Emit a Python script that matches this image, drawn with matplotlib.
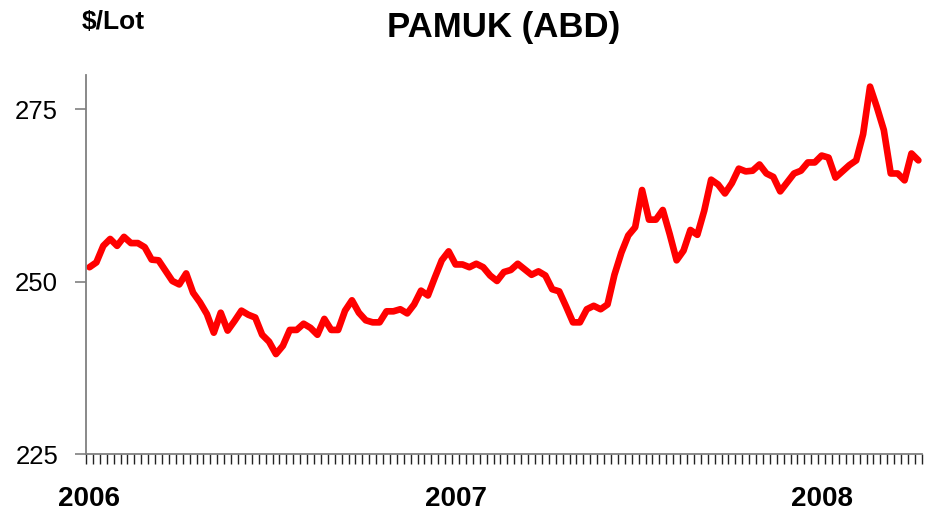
import matplotlib
matplotlib.use("Agg")
import matplotlib.pyplot as plt
import numpy as np

plt.rcParams['font.family'] = ['Liberation Sans', 'DejaVu Sans']

# Weekly cotton price, $/Lot (Jan 2006 - Apr 2008)
prices = [
    252.1, 252.8, 255.2, 256.2, 255.2, 256.5, 255.6, 255.6, 255.0, 253.2,
    253.1, 251.6, 250.1, 249.6, 251.2, 248.4, 247.0, 245.3, 242.6, 245.5,
    242.9, 244.3, 245.8, 245.2, 244.8, 242.3, 241.3, 239.5, 240.7, 243.0,
    243.0, 243.9, 243.3, 242.3, 244.6, 243.0, 243.0, 245.8, 247.3, 245.5,
    244.4, 244.1, 244.1, 245.7, 245.7, 246.0, 245.4, 246.7, 248.7, 248.0,
    250.6, 253.1, 254.4, 252.5, 252.5, 252.1, 252.6, 252.1, 250.9, 250.1,
    251.4, 251.7, 252.6, 251.8, 251.0, 251.5, 250.9, 248.9, 248.6, 246.4,
    244.1, 244.1, 246.0, 246.5, 246.0, 246.7, 251.0, 254.2, 256.7, 257.9,
    263.3, 259.0, 259.0, 260.4, 256.9, 253.1, 254.5, 257.5, 256.8, 260.3,
    264.8, 264.1, 262.8, 264.3, 266.4, 266.0, 266.1, 267.0, 265.7, 265.2,
    263.1, 264.4, 265.7, 266.1, 267.3, 267.3, 268.3, 268.0, 265.1, 266.0,
    266.9, 267.6, 271.4, 278.3, 275.3, 272.0, 265.7, 265.7, 264.7, 268.6,
    267.6,
]
year_labels = ['2006', '2007', '2008']
year_week_index = [0, 53, 106]
y_ticks = [225, 250, 275]

fig = plt.figure(figsize=(9.37, 5.13), dpi=100)
ax = fig.add_axes([0.0918, 0.115, 0.892, 0.739])

x = np.arange(len(prices))
ax.plot(x, prices, color='#FF0000', linewidth=4.8, solid_joinstyle='round',
        solid_capstyle='round')

ax.set_xlim(-0.5, len(prices) - 0.5)
ax.set_ylim(225, 280)

ax.set_yticks(y_ticks)
ax.set_yticklabels([str(v) for v in y_ticks], fontsize=18.5)
ax.tick_params(axis='y', length=8, width=1.2, color='#808080', pad=12)

ax.set_xticks(np.arange(len(prices) + 1) - 0.5)
ax.set_xticklabels([])
ax.tick_params(axis='x', length=7, width=1.0, color='#222222', direction='out')

for lab, idx in zip(year_labels, year_week_index):
    ax.text(idx, -0.085, lab, transform=ax.get_xaxis_transform(),
            ha='center', va='top', fontsize=20, fontweight='bold')

for s in ['top', 'right']:
    ax.spines[s].set_visible(False)
for s in ['left', 'bottom']:
    ax.spines[s].set_color('#808080')
    ax.spines[s].set_linewidth(1.3)

fig.text(0.538, 0.947, 'PAMUK (ABD)', ha='center', va='center',
         fontsize=25, fontweight='bold')
fig.text(0.0875, 0.958, '$/Lot', ha='left', va='center',
         fontsize=19, fontweight='bold')

fig.savefig('out.png', dpi=100)
